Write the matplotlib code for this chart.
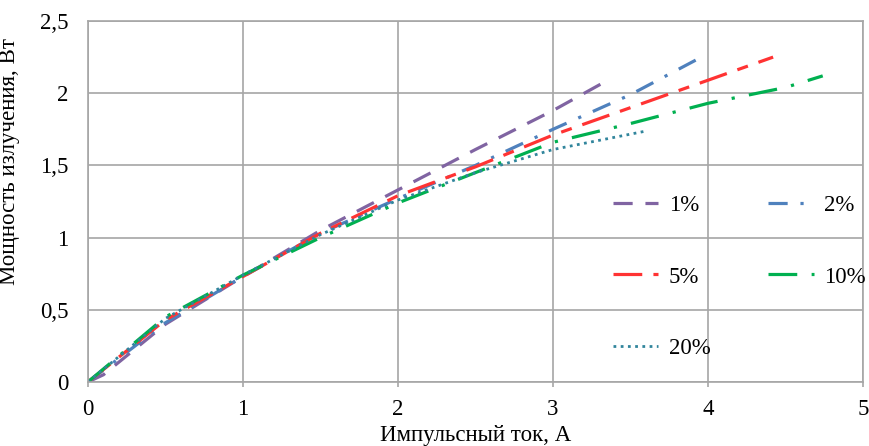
import matplotlib
matplotlib.use('Agg')
import matplotlib.pyplot as plt
from matplotlib.ticker import FuncFormatter

# pulse current, A / radiated power, W for each duty cycle
i_1 = [0, 0.1, 0.5, 1.0, 1.5, 2.0, 2.5, 3.0, 3.32]
p_1 = [0, 0.05, 0.40, 0.73, 1.05, 1.33, 1.61, 1.88, 2.07]

i_2 = [0, 0.5, 1.0, 1.5, 2.0, 2.5, 3.0, 3.5, 3.94]
p_2 = [0, 0.41, 0.73, 1.03, 1.27, 1.50, 1.75, 1.99, 2.24]

i_5 = [0, 0.5, 1.0, 1.5, 2.0, 2.5, 3.0, 3.5, 4.0, 4.42]
p_5 = [0, 0.43, 0.73, 1.03, 1.29, 1.49, 1.71, 1.90, 2.09, 2.25]

i_10 = [0, 0.5, 1.0, 1.5, 2.0, 2.5, 3.0, 3.5, 4.0, 4.5, 4.74]
p_10 = [0, 0.45, 0.74, 1.00, 1.24, 1.45, 1.66, 1.79, 1.93, 2.04, 2.12]

i_20 = [0, 0.5, 1.0, 1.5, 2.0, 2.5, 3.0, 3.61]
p_20 = [0, 0.44, 0.74, 1.02, 1.26, 1.45, 1.61, 1.74]

plt.rcParams['font.family'] = ['Liberation Serif', 'DejaVu Serif']

fig = plt.figure(figsize=(8.7, 4.46), dpi=100)
ax = fig.add_axes([0.101, 0.1435, 0.891, 0.8094])

lw = 2.3
l1, = ax.plot(i_1, p_1, color='#8064A2', lw=lw, dashes=(6, 4), label='1%')
l2, = ax.plot(i_2, p_2, color='#4F81BD', lw=lw, dashes=(6, 4, 1, 4), label='2%')
l5, = ax.plot(i_5, p_5, color='#FF3333', lw=lw, dashes=(9, 3.5, 3.5, 3.5), label='5%')
l10, = ax.plot(i_10, p_10, color='#00B050', lw=lw, dashes=(9, 4.5, 1, 4.5), label='10%')
l20, = ax.plot(i_20, p_20, color='#31859C', lw=2.0, dashes=(1, 1.6), label='20%')

ax.set_xlim(0, 5)
ax.set_ylim(0, 2.5)
ax.set_xticks([0, 1, 2, 3, 4, 5])
ax.set_yticks([0, 0.5, 1, 1.5, 2, 2.5])
ax.yaxis.set_major_formatter(FuncFormatter(lambda v, p: ('%g' % v).replace('.', ',')))
ax.grid(True, color='#A6A6A6', lw=1.2)
ax.set_axisbelow(True)
for s in ax.spines.values():
    s.set_color('#A6A6A6')
    s.set_linewidth(1.2)
ax.tick_params(axis='x', length=3.6, width=1.2, color='#A6A6A6', direction='out',
               labelsize=16.5, pad=9)
ax.tick_params(axis='y', length=0, labelsize=16.5, pad=14)

ax.set_xlabel('Импульсный ток, А', fontsize=16.5, labelpad=3)
ax.set_ylabel('Мощность излучения, Вт', fontsize=16.5)
ax.yaxis.set_label_coords(-0.088, 0.61)

ax.legend([l1, l5, l20, l2, l10], ['1%', '5%', '20%', '2%', '10%'],
          ncol=2, frameon=False, fontsize=16.5, handlelength=2.0,
          handletextpad=0.45, labelspacing=2.2, columnspacing=2.5,
          borderpad=0, borderaxespad=0,
          loc='upper left', bbox_to_anchor=(0.677, 0.518))

fig.savefig('out.png', dpi=100)
